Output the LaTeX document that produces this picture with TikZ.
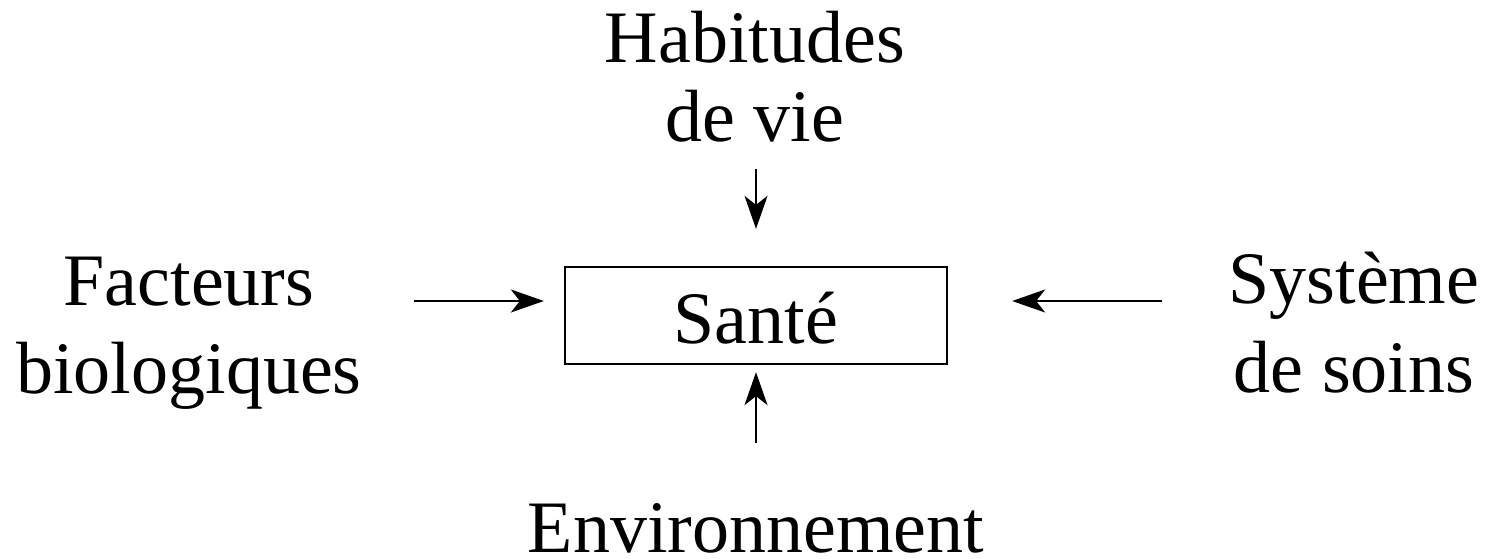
\documentclass[tikz,border=0pt]{standalone}
\usepackage{fontspec}
\setmainfont{Liberation Serif}
\usetikzlibrary{arrows.meta}
\begin{document}
\begin{tikzpicture}[x=1pt,y=-1pt,
  lbl/.style={inner sep=0pt, align=center, anchor=base},
  arr/.style={line width=2.3pt, -{Stealth[length=33pt,width=23pt,inset=9pt]}},
  santebox/.style={draw, line width=2.3pt, inner sep=0pt, text height=76pt, text depth=21pt, minimum width=382pt, anchor=base}]
\useasboundingbox (0,0) rectangle (1488,558);
\node[santebox, font=\fontsize{74}{79}\selectfont] (sante) at (756,343) {Santé};
\node[lbl, font=\fontsize{74}{79}\selectfont] (hab) at (755,141) {Habitudes\\de vie};
\node[lbl, font=\fontsize{74}{88}\selectfont] (fac) at (189,393) {Facteurs\\biologiques};
\node[lbl, font=\fontsize{74}{89}\selectfont] (sys) at (1354,392) {Système\\de soins};
\node[lbl, font=\fontsize{74}{79}\selectfont] (env) at (756,552) {Environnement};
\coordinate (ht) at (756,169);
\coordinate (et) at (756,443);
\coordinate (ft) at (414,301);
\coordinate (st) at (1162,301);
\draw[arr, shorten >=37pt] (ht) -- (sante.north);
\draw[arr, shorten >=7pt] (et) -- (sante.south);
\draw[arr, shorten >=20pt] (ft) -- (sante.west |- ft);
\draw[arr, shorten >=64pt] (st) -- (sante.east |- st);
\end{tikzpicture}
\end{document}
